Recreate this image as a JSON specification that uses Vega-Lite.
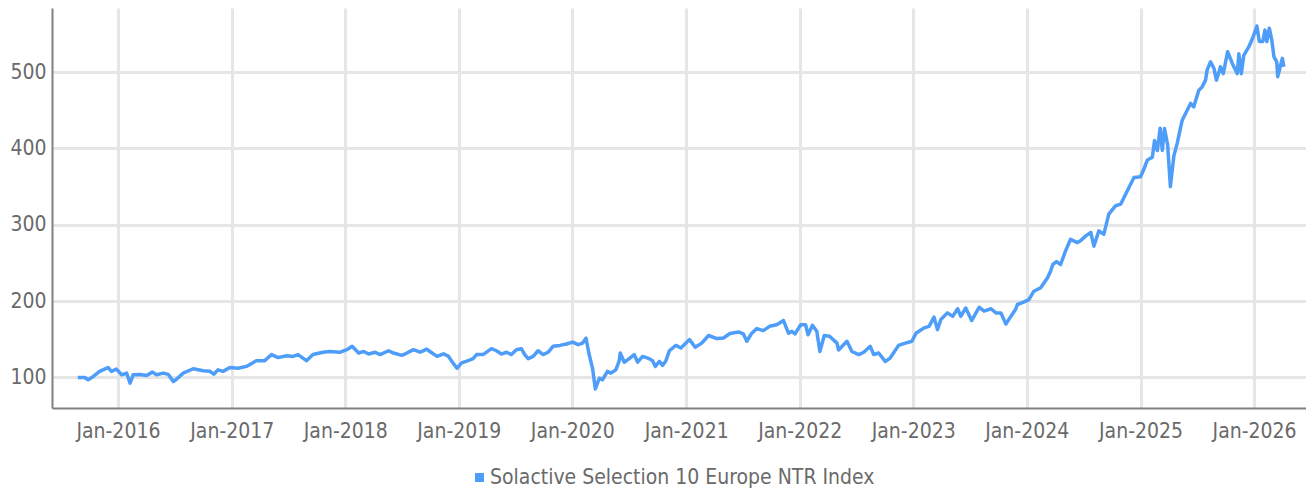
{
  "$schema": "https://vega.github.io/schema/vega-lite/v6.json",
  "autosize": {"type": "none"},
  "padding": {"left": 52, "top": 8, "right": 0, "bottom": 85},
  "width": 1254,
  "height": 400,
  "background": "#ffffff",
  "config": {
    "view": {"stroke": null},
    "font": "DejaVu Sans Condensed",
    "axis": {
      "labelFont": "DejaVu Sans Condensed",
      "labelFontSize": 21,
      "labelColor": "#6a6a6a",
      "domainColor": "#808080",
      "domainWidth": 2,
      "ticks": false,
      "gridColor": "#e6e6e6",
      "gridWidth": 3,
      "title": null
    },
    "legend": {
      "labelFont": "DejaVu Sans Condensed",
      "labelFontSize": 21,
      "labelColor": "#6a6a6a",
      "labelLimit": 0
    }
  },
  "data": {
    "values": [
      {"d": "2015-08-25", "v": 100},
      {"d": "2015-09-16", "v": 100},
      {"d": "2015-09-27", "v": 97},
      {"d": "2015-10-13", "v": 101},
      {"d": "2015-11-03", "v": 108},
      {"d": "2015-11-30", "v": 113},
      {"d": "2015-12-11", "v": 108},
      {"d": "2015-12-27", "v": 111},
      {"d": "2016-01-13", "v": 103.5},
      {"d": "2016-01-29", "v": 105.7},
      {"d": "2016-02-09", "v": 92.5},
      {"d": "2016-02-19", "v": 103.5},
      {"d": "2016-03-12", "v": 104},
      {"d": "2016-04-02", "v": 102.6},
      {"d": "2016-04-21", "v": 107},
      {"d": "2016-05-04", "v": 103.5},
      {"d": "2016-05-26", "v": 105.7},
      {"d": "2016-06-11", "v": 104},
      {"d": "2016-06-27", "v": 94.7},
      {"d": "2016-07-08", "v": 98},
      {"d": "2016-07-29", "v": 105.7},
      {"d": "2016-08-30", "v": 111.4},
      {"d": "2016-10-01", "v": 108.8},
      {"d": "2016-10-23", "v": 108},
      {"d": "2016-11-04", "v": 104.3},
      {"d": "2016-11-18", "v": 110},
      {"d": "2016-12-04", "v": 108},
      {"d": "2016-12-26", "v": 113},
      {"d": "2017-01-21", "v": 112},
      {"d": "2017-02-17", "v": 114.5},
      {"d": "2017-03-21", "v": 122},
      {"d": "2017-04-17", "v": 122},
      {"d": "2017-05-09", "v": 130},
      {"d": "2017-05-30", "v": 126},
      {"d": "2017-06-26", "v": 128.5},
      {"d": "2017-07-17", "v": 127.6},
      {"d": "2017-08-02", "v": 130},
      {"d": "2017-08-29", "v": 122},
      {"d": "2017-09-19", "v": 130},
      {"d": "2017-10-21", "v": 133},
      {"d": "2017-11-12", "v": 134},
      {"d": "2017-12-14", "v": 133},
      {"d": "2018-01-06", "v": 136.4},
      {"d": "2018-01-23", "v": 140.8},
      {"d": "2018-02-13", "v": 132},
      {"d": "2018-03-01", "v": 134},
      {"d": "2018-03-17", "v": 130.7},
      {"d": "2018-04-07", "v": 133},
      {"d": "2018-04-23", "v": 130},
      {"d": "2018-05-20", "v": 135},
      {"d": "2018-06-05", "v": 132},
      {"d": "2018-07-02", "v": 129},
      {"d": "2018-07-18", "v": 132},
      {"d": "2018-08-08", "v": 136.4},
      {"d": "2018-08-30", "v": 133.3},
      {"d": "2018-09-20", "v": 137},
      {"d": "2018-10-07", "v": 132},
      {"d": "2018-10-23", "v": 127.6},
      {"d": "2018-11-13", "v": 131},
      {"d": "2018-11-29", "v": 127.6},
      {"d": "2018-12-10", "v": 121},
      {"d": "2018-12-26", "v": 112},
      {"d": "2019-01-10", "v": 119},
      {"d": "2019-01-31", "v": 122},
      {"d": "2019-02-16", "v": 124.6},
      {"d": "2019-02-27", "v": 130},
      {"d": "2019-03-20", "v": 130},
      {"d": "2019-04-16", "v": 137.7},
      {"d": "2019-05-02", "v": 135},
      {"d": "2019-05-18", "v": 130.7},
      {"d": "2019-06-03", "v": 133},
      {"d": "2019-06-19", "v": 130},
      {"d": "2019-07-05", "v": 136.4},
      {"d": "2019-07-21", "v": 137.7},
      {"d": "2019-08-01", "v": 130},
      {"d": "2019-08-12", "v": 124.6},
      {"d": "2019-08-28", "v": 127.6},
      {"d": "2019-09-13", "v": 135},
      {"d": "2019-09-29", "v": 130},
      {"d": "2019-10-15", "v": 133},
      {"d": "2019-10-31", "v": 140.8},
      {"d": "2019-11-22", "v": 142},
      {"d": "2019-12-13", "v": 143.8},
      {"d": "2020-01-02", "v": 146.4},
      {"d": "2020-01-20", "v": 143},
      {"d": "2020-02-03", "v": 145},
      {"d": "2020-02-14", "v": 151.5},
      {"d": "2020-02-23", "v": 132},
      {"d": "2020-03-06", "v": 112},
      {"d": "2020-03-15", "v": 85},
      {"d": "2020-03-28", "v": 99},
      {"d": "2020-04-07", "v": 97},
      {"d": "2020-04-23", "v": 108},
      {"d": "2020-05-04", "v": 105.7},
      {"d": "2020-05-20", "v": 110},
      {"d": "2020-05-31", "v": 122},
      {"d": "2020-06-03", "v": 132},
      {"d": "2020-06-16", "v": 120},
      {"d": "2020-07-02", "v": 124.6},
      {"d": "2020-07-18", "v": 130},
      {"d": "2020-07-29", "v": 120},
      {"d": "2020-08-14", "v": 127.6},
      {"d": "2020-09-04", "v": 124.6},
      {"d": "2020-09-15", "v": 122},
      {"d": "2020-09-24", "v": 114.5},
      {"d": "2020-10-07", "v": 121},
      {"d": "2020-10-17", "v": 115.8},
      {"d": "2020-10-28", "v": 122},
      {"d": "2020-11-08", "v": 135},
      {"d": "2020-11-29", "v": 142},
      {"d": "2020-12-15", "v": 138.6},
      {"d": "2021-01-12", "v": 149.6},
      {"d": "2021-01-30", "v": 139.5},
      {"d": "2021-02-20", "v": 145},
      {"d": "2021-03-14", "v": 155},
      {"d": "2021-04-10", "v": 151},
      {"d": "2021-05-01", "v": 151.7},
      {"d": "2021-05-22", "v": 157.5},
      {"d": "2021-06-18", "v": 159.6},
      {"d": "2021-07-04", "v": 157},
      {"d": "2021-07-15", "v": 147.4},
      {"d": "2021-07-31", "v": 158},
      {"d": "2021-08-16", "v": 164},
      {"d": "2021-09-06", "v": 161.4},
      {"d": "2021-09-26", "v": 167},
      {"d": "2021-10-19", "v": 169},
      {"d": "2021-11-10", "v": 174.6},
      {"d": "2021-11-26", "v": 158},
      {"d": "2021-12-07", "v": 160.5},
      {"d": "2021-12-17", "v": 157},
      {"d": "2022-01-04", "v": 169},
      {"d": "2022-01-20", "v": 169},
      {"d": "2022-01-28", "v": 156},
      {"d": "2022-02-11", "v": 168.4},
      {"d": "2022-02-25", "v": 160.5},
      {"d": "2022-03-07", "v": 134},
      {"d": "2022-03-21", "v": 155},
      {"d": "2022-04-07", "v": 154},
      {"d": "2022-05-01", "v": 145},
      {"d": "2022-05-06", "v": 136},
      {"d": "2022-06-02", "v": 147.4},
      {"d": "2022-06-18", "v": 134},
      {"d": "2022-07-10", "v": 130},
      {"d": "2022-07-26", "v": 133},
      {"d": "2022-08-16", "v": 140.8},
      {"d": "2022-08-27", "v": 130},
      {"d": "2022-09-12", "v": 132},
      {"d": "2022-10-03", "v": 121},
      {"d": "2022-10-19", "v": 125.4},
      {"d": "2022-11-15", "v": 142},
      {"d": "2022-12-07", "v": 145},
      {"d": "2022-12-28", "v": 147.4},
      {"d": "2023-01-10", "v": 158},
      {"d": "2023-02-05", "v": 165},
      {"d": "2023-02-21", "v": 167},
      {"d": "2023-03-09", "v": 179},
      {"d": "2023-03-20", "v": 162.7},
      {"d": "2023-03-31", "v": 176},
      {"d": "2023-04-21", "v": 184.6},
      {"d": "2023-05-08", "v": 180},
      {"d": "2023-05-24", "v": 190},
      {"d": "2023-06-03", "v": 180},
      {"d": "2023-06-19", "v": 191},
      {"d": "2023-07-08", "v": 174.6},
      {"d": "2023-08-01", "v": 192},
      {"d": "2023-08-17", "v": 187},
      {"d": "2023-09-08", "v": 190},
      {"d": "2023-09-24", "v": 184.6},
      {"d": "2023-10-10", "v": 184.6},
      {"d": "2023-10-26", "v": 170},
      {"d": "2023-11-11", "v": 180},
      {"d": "2023-11-26", "v": 189},
      {"d": "2023-12-02", "v": 195.6},
      {"d": "2023-12-24", "v": 199},
      {"d": "2024-01-08", "v": 202},
      {"d": "2024-01-24", "v": 213},
      {"d": "2024-02-15", "v": 217.5},
      {"d": "2024-03-08", "v": 230.7},
      {"d": "2024-03-18", "v": 239.5},
      {"d": "2024-03-25", "v": 248},
      {"d": "2024-04-06", "v": 251.7},
      {"d": "2024-04-19", "v": 248},
      {"d": "2024-05-05", "v": 265.8},
      {"d": "2024-05-21", "v": 281},
      {"d": "2024-06-12", "v": 276.7},
      {"d": "2024-06-22", "v": 279},
      {"d": "2024-07-09", "v": 285.5},
      {"d": "2024-07-25", "v": 290},
      {"d": "2024-08-04", "v": 272},
      {"d": "2024-08-20", "v": 292},
      {"d": "2024-09-05", "v": 287.7},
      {"d": "2024-09-21", "v": 314},
      {"d": "2024-10-13", "v": 325},
      {"d": "2024-10-29", "v": 327},
      {"d": "2024-11-14", "v": 340},
      {"d": "2024-11-30", "v": 353},
      {"d": "2024-12-11", "v": 362},
      {"d": "2025-01-01", "v": 363},
      {"d": "2025-01-12", "v": 373},
      {"d": "2025-01-23", "v": 385},
      {"d": "2025-02-08", "v": 388.6},
      {"d": "2025-02-15", "v": 410.5},
      {"d": "2025-02-24", "v": 397.4},
      {"d": "2025-03-05", "v": 426.5},
      {"d": "2025-03-12", "v": 397.4},
      {"d": "2025-03-19", "v": 426},
      {"d": "2025-03-29", "v": 405},
      {"d": "2025-04-07", "v": 350},
      {"d": "2025-04-18", "v": 390},
      {"d": "2025-04-29", "v": 407},
      {"d": "2025-05-15", "v": 437},
      {"d": "2025-05-31", "v": 450},
      {"d": "2025-06-11", "v": 459},
      {"d": "2025-06-21", "v": 454.4},
      {"d": "2025-07-07", "v": 476},
      {"d": "2025-07-18", "v": 480.7},
      {"d": "2025-07-29", "v": 489.5},
      {"d": "2025-08-03", "v": 502.6},
      {"d": "2025-08-14", "v": 513.5},
      {"d": "2025-08-25", "v": 505},
      {"d": "2025-09-02", "v": 489.5},
      {"d": "2025-09-15", "v": 507},
      {"d": "2025-09-24", "v": 498},
      {"d": "2025-10-08", "v": 526.7},
      {"d": "2025-10-23", "v": 511.4},
      {"d": "2025-11-08", "v": 498},
      {"d": "2025-11-13", "v": 524},
      {"d": "2025-11-21", "v": 498},
      {"d": "2025-11-29", "v": 522},
      {"d": "2025-12-15", "v": 533},
      {"d": "2025-12-29", "v": 546},
      {"d": "2026-01-10", "v": 560.5},
      {"d": "2026-01-18", "v": 540},
      {"d": "2026-01-29", "v": 540},
      {"d": "2026-02-05", "v": 555},
      {"d": "2026-02-11", "v": 540},
      {"d": "2026-02-19", "v": 557.5},
      {"d": "2026-02-27", "v": 542},
      {"d": "2026-03-06", "v": 520},
      {"d": "2026-03-15", "v": 513.5},
      {"d": "2026-03-18", "v": 494},
      {"d": "2026-03-26", "v": 507},
      {"d": "2026-04-02", "v": 518},
      {"d": "2026-04-07", "v": 507}
    ]
  },
  "mark": {"type": "line", "strokeWidth": 3.5, "interpolate": "linear", "strokeJoin": "round"},
  "encoding": {
    "x": {
      "field": "d",
      "type": "temporal",
      "scale": {"type": "utc", "domain": ["2015-06-03", "2026-06-17"]},
      "axis": {
        "format": "%b-%Y",
        "tickCount": {"interval": "year", "step": 1},
        "labelPadding": 12,
        "labelFlush": false,
        "labelOverlap": false,
        "grid": true
      }
    },
    "y": {
      "field": "v",
      "type": "quantitative",
      "scale": {"domain": [60, 584], "nice": false, "zero": false},
      "axis": {
        "values": [100, 200, 300, 400, 500],
        "labelPadding": 6,
        "grid": true
      }
    },
    "color": {
      "datum": "Solactive Selection 10 Europe NTR Index",
      "type": "nominal",
      "scale": {"range": ["#4e9df9"]},
      "legend": {
        "title": null,
        "orient": "none",
        "legendX": 417,
        "legendY": 459,
        "symbolType": "square",
        "symbolSize": 81,
        "labelOffset": 0,
        "encode": {
          "symbols": {
            "update": {
              "fill": {"value": "#4e9df9"},
              "stroke": {"value": "#4e9df9"},
              "strokeWidth": {"value": 0}
            }
          }
        }
      }
    }
  }
}
